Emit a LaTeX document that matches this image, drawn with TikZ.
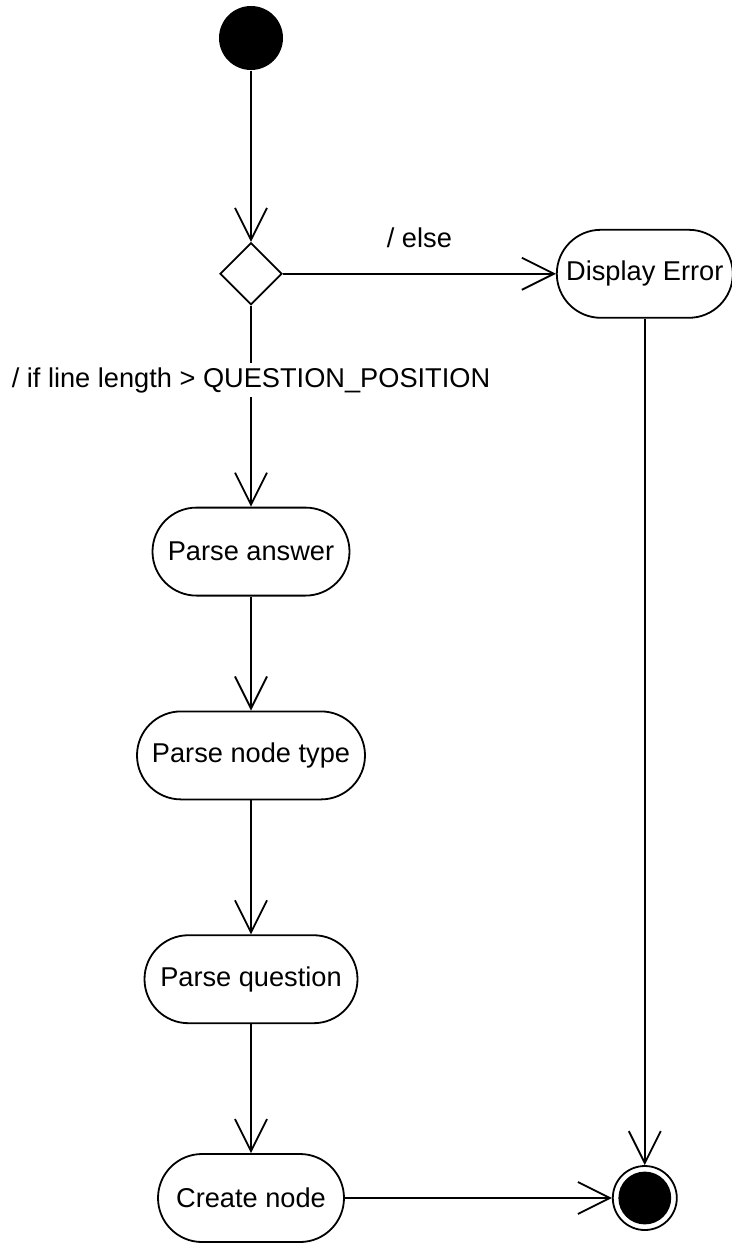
\documentclass[tikz,border=0pt]{standalone}
\usepackage{fontspec}
\setmainfont{Liberation Sans}
\usetikzlibrary{positioning, arrows.meta, shapes.geometric}

\begin{document}
\begin{tikzpicture}[
  font=\fontsize{13.6}{16}\selectfont,
  line width=0.9pt,
  initial/.style={circle, fill=black, minimum size=32pt, inner sep=0pt},
  final/.style={circle, draw, minimum size=32pt, inner sep=0pt,
    path picture={\fill (path picture bounding box.center) circle (13.2pt);}},
  decision/.style={diamond, draw, aspect=1, minimum size=31pt, inner sep=0pt},
  action/.style={rectangle, draw, rounded corners=22pt, minimum height=44pt},
  flow/.style={-{Straight Barb[length=16pt, width=16pt]}},
  guard/.style={fill=white, inner sep=2pt}
]

\useasboundingbox (0,0) rectangle (366pt,-621.5pt);

% -------------------------
% Main column
% -------------------------

\node[initial] (start) at (125.5pt,-19pt) {};
\node[decision, below=85.5pt of start] (check) {};
\node[action, minimum width=98.5pt, below=100.5pt of check] (answer) {Parse answer};
\node[action, minimum width=114pt, below=57pt of answer] (ntype) {Parse node type};
\node[action, minimum width=106.5pt, below=67pt of ntype] (question) {Parse question};
\node[action, minimum width=93pt, below=64.5pt of question] (create) {Create node};

% -------------------------
% Error branch and end
% -------------------------

\node[action, minimum width=88pt, right=136.5pt of check] (error) {Display Error};
\node[final] (end) at (error |- create) {};

% -------------------------
% Transitions
% -------------------------

\draw[flow] (start) -- (check);
\draw[flow] (check) -- node[midway, yshift=18pt] {/ else} (error);
\draw[flow] (check) -- node[guard, pos=0.37] {/ if line length > QUESTION\_POSITION} (answer);
\draw[flow] (answer) -- (ntype);
\draw[flow] (ntype) -- (question);
\draw[flow] (question) -- (create);
\draw[flow] (create) -- (end);
\draw[flow] (error) -- (end);

\end{tikzpicture}
\end{document}
